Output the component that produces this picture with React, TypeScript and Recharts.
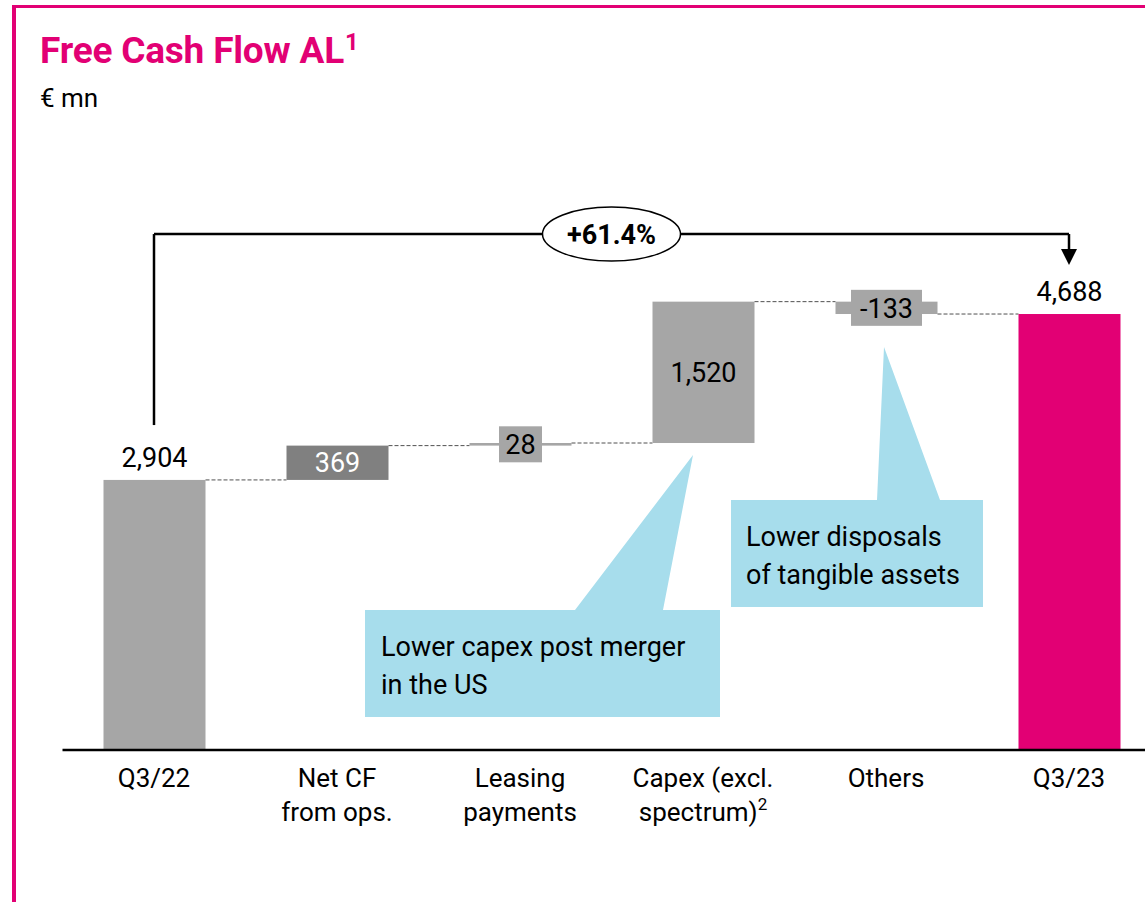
import React from "react";
import { BarChart, Bar, XAxis, YAxis, ReferenceLine, ReferenceDot } from "recharts";

const categories = ["Q3/22", "Net CF\nfrom ops.", "Leasing\npayments", "Capex (excl.\nspectrum)²", "Others", "Q3/23"];
const changes = [2904, 369, 28, 1520, -133, 4688];
const isTotal = [true, false, false, false, false, true];
const barColors = ["#A6A6A6", "#808080", "#A6A6A6", "#A6A6A6", "#A6A6A6", "#E20074"];
const growthLabel = "+61.4%";

const MAGENTA = "#E20074";
const CALLOUT = "#A7DDEC";
const FONT = "Roboto, 'Noto Sans', sans-serif";

// plot geometry
const CHART_W = 1170;
const CHART_H = 902;
const M = { top: 192, right: 9.5, bottom: 52, left: 62.5 };
const X_AXIS_H = 100;
const PLOT_W = CHART_W - M.left - M.right;
const BAND = PLOT_W / categories.length;
const BAR_W = 102;

// bracket levels (value units)
const BRACKET_TOP = 5548;
const BRACKET_START = 3494;
const ARROW_TIP = 5215;
const ARROW_BASE = 5376;

// waterfall rows: invisible base + visible step
let running = 0;
const rows = categories.map((name, i) => {
  const c = changes[i];
  let base = 0;
  let step = 0;
  if (isTotal[i]) {
    base = 0;
    step = c;
    running = c;
  } else if (c >= 0) {
    base = running;
    step = c;
    running += c;
  } else {
    running += c;
    base = running;
    step = -c;
  }
  return { name, base, step, change: c, idx: i };
});

const fmt = (v: number) => v.toLocaleString("en-US");

const WaterfallBar = (props: any) => {
  const { x, y, width, height, payload } = props;
  const i = payload.idx;
  const color = barColors[i];
  const label = fmt(payload.change);
  const cx = x + width / 2;
  const cy = y + height / 2;
  const endY = payload.change < 0 ? y + height : y;
  const last = i === categories.length - 1;
  const dark = color === "#808080";
  let lbl: React.ReactNode = null;
  if (isTotal[i]) {
    lbl = (
      <text x={cx} y={y - 13} textAnchor="middle" fontSize={27} fill="#000" fontFamily={FONT}>
        {label}
      </text>
    );
  } else if (height < 20) {
    const bw = label.length * 14 + 15;
    lbl = (
      <g>
        <rect x={cx - bw / 2} y={cy - 18} width={bw} height={36} fill={color} />
        <text x={cx} y={cy} dy="0.36em" textAnchor="middle" fontSize={27} fill="#000" fontFamily={FONT}>
          {label}
        </text>
      </g>
    );
  } else {
    lbl = (
      <text x={cx} y={cy} dy="0.36em" textAnchor="middle" fontSize={27} fill={dark ? "#fff" : "#000"} fontFamily={FONT}>
        {label}
      </text>
    );
  }
  return (
    <g>
      <rect x={x} y={y} width={width} height={Math.max(height, 1)} fill={color} />
      {!last && (
        <line x1={x + width} y1={endY} x2={x + BAND} y2={endY} stroke="#505050" strokeWidth={1} strokeDasharray="4 2" />
      )}
      {lbl}
    </g>
  );
};

const CategoryTick = (props: any) => {
  const { x, y, payload } = props;
  const lines = String(payload.value).split("\n");
  return (
    <g>
      {lines.map((ln, k) => (
        <text key={k} x={x} y={y + 37 + k * 34} textAnchor="middle" fontSize={26} fill="#000" fontFamily={FONT}>
          {ln.endsWith("²") ? (
            <>
              {ln.slice(0, -1)}
              <tspan fontSize={17} dy={-11}>2</tspan>
            </>
          ) : (
            ln
          )}
        </text>
      ))}
    </g>
  );
};

const BracketTop = (props: any) => {
  const { x1, y1, x2, y2 } = props;
  const mx = (x1 + x2) / 2;
  return (
    <g>
      <line x1={x1} y1={y1} x2={x2} y2={y2} stroke="#000" strokeWidth={2.5} />
      <ellipse cx={mx} cy={y1} rx={69} ry={27} fill="#fff" stroke="#000" strokeWidth={1.5} />
      <text x={mx} y={y1} dy="0.36em" textAnchor="middle" fontSize={27} fontWeight={700} fill="#000" fontFamily={FONT}>
        {growthLabel}
      </text>
    </g>
  );
};

const ArrowHead = (props: any) => {
  const { cx, cy } = props;
  return <polygon points={`${cx - 8},${cy - 16} ${cx + 8},${cy - 16} ${cx},${cy}`} fill="#000" />;
};

export default function App() {
  return (
    <div
      style={{
        position: "absolute",
        left: 0,
        top: 0,
        width: 1145,
        height: 902,
        overflow: "hidden",
        background: "#fff",
        fontFamily: FONT,
      }}
    >
      <div
        style={{
          position: "absolute",
          left: 12,
          top: 5,
          right: -20,
          bottom: -20,
          borderLeft: `4px solid ${MAGENTA}`,
          borderTop: `3px solid ${MAGENTA}`,
        }}
      />
      <div style={{ position: "absolute", left: 40, top: 32, fontSize: 37, lineHeight: 1, fontWeight: 700, color: MAGENTA, letterSpacing: -0.2 }}>
        Free Cash Flow AL<span style={{ fontSize: 24, position: "relative", top: -13, marginLeft: 1 }}>1</span>
      </div>
      <div style={{ position: "absolute", left: 40, top: 85, fontSize: 26, lineHeight: 1, color: "#000" }}>€ mn</div>

      <div style={{ position: "absolute", left: 0, top: 0 }}>
        <BarChart width={CHART_W} height={CHART_H} data={rows} margin={M} barSize={BAR_W}>
          <XAxis
            dataKey="name"
            height={X_AXIS_H}
            interval={0}
            tickLine={false}
            tickSize={0}
            tickMargin={0}
            axisLine={{ stroke: "#000", strokeWidth: 2.5 }}
            tick={<CategoryTick />}
          />
          <YAxis hide domain={[0, 6000]} />
          <Bar dataKey="base" stackId="w" fill="transparent" isAnimationActive={false} />
          <Bar dataKey="step" stackId="w" isAnimationActive={false} shape={<WaterfallBar />} />
          <ReferenceLine
            segment={[{ x: categories[0], y: BRACKET_START }, { x: categories[0], y: BRACKET_TOP }]}
            stroke="#000"
            strokeWidth={2.5}
          />
          <ReferenceLine
            segment={[{ x: categories[0], y: BRACKET_TOP }, { x: categories[5], y: BRACKET_TOP }]}
            shape={<BracketTop />}
          />
          <ReferenceLine
            segment={[{ x: categories[5], y: BRACKET_TOP }, { x: categories[5], y: ARROW_BASE }]}
            stroke="#000"
            strokeWidth={2.5}
          />
          <ReferenceDot x={categories[5]} y={ARROW_TIP} shape={<ArrowHead />} />
        </BarChart>
      </div>

      <svg width={1145} height={902} style={{ position: "absolute", left: 0, top: 0, pointerEvents: "none" }}>
        <polygon points="365,610 575,610 693,455 663,610 720,610 720,717 365,717" fill={CALLOUT} />
        <polygon points="731,500 877,500 884,347 940,500 983,500 983,607 731,607" fill={CALLOUT} />
        <g fontFamily={FONT} fontSize={27} fill="#000">
          <text x={381} y={646} dy="0.36em">Lower capex post merger</text>
          <text x={381} y={684} dy="0.36em">in the US</text>
          <text x={746} y={536} dy="0.36em">Lower disposals</text>
          <text x={746} y={574} dy="0.36em">of tangible assets</text>
        </g>
      </svg>
    </div>
  );
}
